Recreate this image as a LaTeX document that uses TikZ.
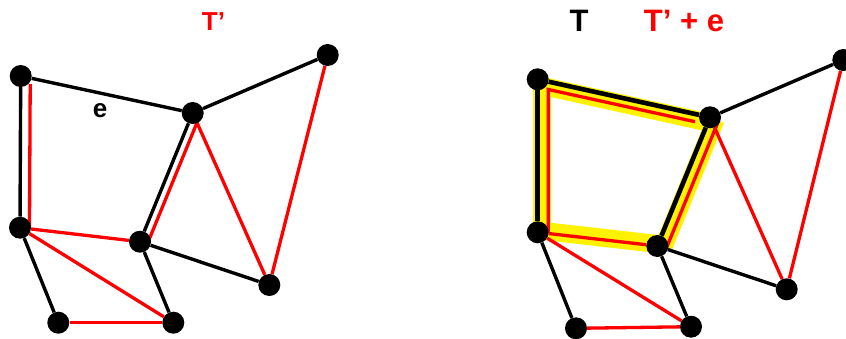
\documentclass[tikz,border=0pt]{standalone}
\usepackage{fontspec}
\setmainfont{Liberation Sans}
\usetikzlibrary{calc}
\pgfdeclarelayer{bg}
\pgfsetlayers{bg,main}
\begin{document}
\begin{tikzpicture}[x=1pt,y=1pt,
 vtx/.style={circle,fill=black,inner sep=0pt,minimum size=22pt},
 blk/.style={line width=3.4pt,black},
 blkhi/.style={line width=4.6pt,black},
 redl/.style={line width=3.3pt,red},
 hilite/.style={line width=18pt,yellow},
 lbl/.style={inner sep=0pt,anchor=base,font=\bfseries\fontsize{26}{30}\selectfont},
 lblbig/.style={inner sep=0pt,anchor=base,font=\bfseries\fontsize{31}{36}\selectfont}]
\useasboundingbox (0,0) rectangle (846,338);

% ---------- left graph ----------
\node[vtx] (A1) at (20.7,262) {};
\node[vtx] (B1) at (192.7,225) {};
\node[vtx] (C1) at (327.7,283) {};
\node[vtx] (D1) at (20,110.3) {};
\node[vtx] (E1) at (140,96.3) {};
\node[vtx] (F1) at (269.3,53) {};
\node[vtx] (G1) at (58.3,15.3) {};
\node[vtx] (H1) at (173.3,15.3) {};

\node[lbl,red] (tp) at (213.5,307) {T’};
\node[lbl] (el) at (100,220) {e};

\begin{pgfonlayer}{bg}
 \draw[blk] (A1) -- (B1);
 \draw[blk] (A1) -- (D1);
 \draw[blk] (B1) -- (C1);
 \draw[blk] (B1) -- (E1);
 \draw[blk] (D1) -- (G1);
 \draw[blk] (E1) -- (H1);
 \draw[blk] (E1) -- (F1);
 \draw[redl] ($(A1)+(9.5,-8)$) -- ($(D1)+(9.5,0)$);
 \draw[redl] ($(B1)+(7,-3)$) -- ($(E1)+(7,-3)$);
 \draw[redl] (D1) -- (E1);
 \draw[redl] (D1) -- (H1);
 \draw[redl] (G1) -- (H1);
 \draw[redl] (B1) -- (F1);
 \draw[redl] (C1) -- (F1);
\end{pgfonlayer}

% ---------- right graph ----------
\node[vtx] (A2) at (537.7,258.7) {};
\node[vtx] (B2) at (710,220.7) {};
\node[vtx] (C2) at (843.3,278) {};
\node[vtx] (D2) at (537.7,105.7) {};
\node[vtx] (E2) at (657.3,92) {};
\node[vtx] (F2) at (786.7,48.7) {};
\node[vtx] (G2) at (576,9.7) {};
\node[vtx] (H2) at (691,11.3) {};

\node[lblbig] (tt) at (579,306) {T};
\node[lblbig,red] (tpe) at (684,306) {T’ + e};

\begin{pgfonlayer}{bg}
 % yellow cycle highlight
 \draw[hilite] ($(A2)+(4,0)$) -- ($(D2)+(4,0)$);
 \draw[hilite] ($(A2)+(-1.2,-5.4)$) -- ($(B2)+(-1.2,-5.4)$);
 \draw[hilite] ($(B2)+(5.6,-2.3)$) -- ($(E2)+(5.6,-2.3)$);
 \draw[hilite] ($(D2)+(0,2)$) -- ($(E2)+(0,2)$);
 % black tree T
 \draw[blkhi] (A2) -- (B2);
 \draw[blkhi] (A2) -- (D2);
 \draw[blk] (B2) -- (C2);
 \draw[blkhi] (B2) -- (E2);
 \draw[blk] (D2) -- (G2);
 \draw[blk] (E2) -- (H2);
 \draw[blk] (E2) -- (F2);
 % red T' + e
 \draw[redl,line join=miter] ($(B2)+(-15,-4.4)$) -- ($(A2)+(10.6,-10.2)$) -- ($(D2)+(10.6,0)$);
 \draw[redl] ($(B2)+(8.5,-3.5)$) -- ($(E2)+(8.5,-3.5)$);
 \draw[redl] (D2) -- (E2);
 \draw[redl] (D2) -- (H2);
 \draw[redl] (G2) -- (H2);
 \draw[redl] (B2) -- (F2);
 \draw[redl] (C2) -- (F2);
\end{pgfonlayer}
\end{tikzpicture}
\end{document}
